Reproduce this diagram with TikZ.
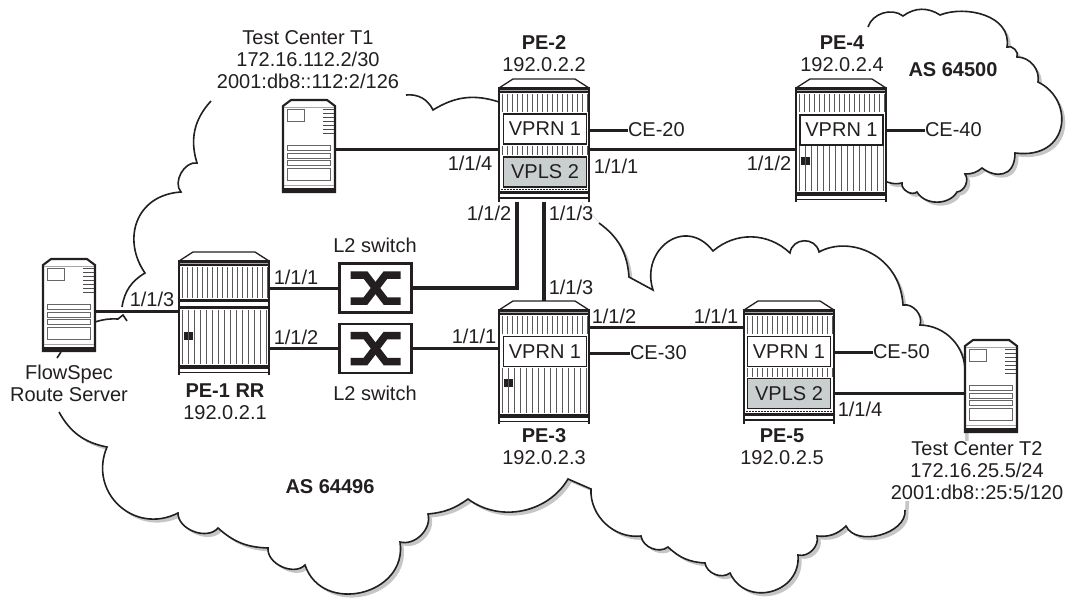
\documentclass[tikz,border=0pt]{standalone}
\usepackage{fontspec}
\setmainfont{Liberation Sans}
\definecolor{inkc}{HTML}{231F20}
\definecolor{vplsc}{HTML}{C9CFCF}
\def\cloudA{(122,307) to[bend left=25] (145,273) .. controls (122,240) and (135,195) .. (181,192) to[bend left=70] (197,163) to[bend left=30] (211,101)}
\def\cloudB{(406,95) to[bend left=35] (433,110) to[bend left=25] (499,102)}
\def\cloudC{(599,223) to[bend left=25] (629,277) -- (653,290) .. controls (640,250) and (685,215) .. (713,251) to[bend left=42] (790,253) to[bend left=80,looseness=1.4] (819,252) .. controls (850,235) and (900,255) .. (903,305) to[bend left=60] (920,325) to[bend left=45] (965,372)}
\def\cloudD{(905,510) to[bend left=80] (846,526) to[bend left=25] (817,536) to[bend left=60] (798,555) to[bend left=80,looseness=1.4] (730,573) to[bend left=60] (705,563) to[bend left=20] (668,547) to[bend left=60] (641,536) to[bend left=50] (591,489) -- (568,479) to[bend left=48] (468,499) to[bend left=15] (428,514) to[bend left=60] (400,542) to[bend left=85,looseness=1.4] (305,565) to[bend left=70] (268,548) to[bend left=20] (218,528) to[bend left=70] (178,513) to[bend left=70,looseness=1.3] (107,447) to[bend left=25] (59,412)}
\def\cloudE{(57,358) -- (61,352)}
\def\cloudF{(95,322) to[bend left=10] (118,319) -- (123,315) -- (127,321)}
\def\cloudG{(868,27) to[bend left=55] (903,16) to[bend left=35] (940,15) .. controls (965,5) and (1012,15) .. (1007,47) to[bend left=70] (1017,57) to[bend left=50] (1038,82) .. controls (1075,100) and (1070,160) .. (1015,153) .. controls (1015,178) and (995,178) .. (982,168) to[bend left=20] (965,174) to[bend left=60] (957,192) to[bend left=60] (917,192) to[bend left=70] (902,183) to[bend left=15] (887,182)}

\begin{document}
\begin{tikzpicture}[x=1pt,y=-1pt,
	every node/.style={font=\fontsize{20}{22}\selectfont, text=inkc, inner sep=0pt, outer sep=0pt},
	router/.style={minimum width=90pt, minimum height=123pt},
	server/.style={minimum width=52pt, minimum height=92pt},
	cloudline/.style={draw=inkc, line width=1.6pt},
	cloudshade/.style={fill=gray!45, shift={(3.5,3.5)}},
	grille/.style={draw=black!65, line width=0.9pt},
	link/.style={draw=inkc, line width=3pt},
	vprn/.style={draw=inkc, line width=1.8pt, fill=white, minimum width=83pt, minimum height=30pt},
	vpls/.style={vprn, fill=vplsc},
	switchbox/.style={draw=inkc, line width=2.6pt, fill=white, minimum width=72pt, minimum height=49pt},
	blocktext/.style={align=center, fill=white, inner sep=1pt}]
	\useasboundingbox (0,0) rectangle (1081,597);

	\fill[cloudshade] \cloudG -- cycle;
	\fill[white] \cloudG -- cycle;
	\draw[cloudline] \cloudG;
	\fill[cloudshade] \cloudA -- \cloudB -- \cloudC -- (965,490) -- (906,490) -- \cloudD -- \cloudE -- \cloudF -- cycle;
	\fill[white] \cloudA -- \cloudB -- \cloudC -- (965,490) -- (906,490) -- \cloudD -- \cloudE -- \cloudF -- cycle;
	\draw[cloudline] \cloudA \cloudB \cloudC \cloudD \cloudE \cloudF;

	\foreach \nm/\px/\py in {pe1/179/252, pe2/499/79, pe3/499/301, pe4/796/79, pe5/744/301} {
		\node[router] (\nm) at (\px+45,\py+61.5) {};
		\begin{scope}[shift={(\px,\py)}]
			\draw[fill=white, line width=1.3pt, draw=inkc] (0,9) -- (14,0) -- (76,0) -- (90,9);
			\fill[white] (0,9) rectangle (90,123);
			\fill[inkc] (0,8) rectangle (90,10.5);
			\fill[gray!70] (0,10.5) rectangle (90,12);
			\fill[inkc] (0,12) rectangle (90,14);
			\foreach \gx in {3,8,...,88} \draw[grille] (\gx,15) -- (\gx,33);
		\end{scope}
	}
	\foreach \px/\py in {499/79, 744/301} {
		\begin{scope}[shift={(\px,\py)}]
			\foreach \gx in {3,8,...,88} \draw[grille] (\gx,67) -- (\gx,76);
			\draw[inkc, line width=0.8pt, dash pattern=on 2pt off 1pt] (2,110) -- (88,110);
			\fill[inkc] (0,112) rectangle (90,115);
			\fill[inkc] (0,118) rectangle (90,120);
		\end{scope}
	}
	\foreach \px/\py in {796/79, 499/301} {
		\begin{scope}[shift={(\px,\py)}]
			\foreach \gx in {3,9,...,87} \draw[grille] (\gx,67) -- (\gx,112);
			\fill[inkc] (5,78) rectangle (9,86);
			\fill[inkc] (10,78) rectangle (14,86);
			\fill[inkc] (0,113) rectangle (90,117);
			\draw[inkc, line width=1pt] (0,120) -- (90,120);
		\end{scope}
	}
	\begin{scope}[shift={(179,252)}]
		\foreach \gx in {3,8,...,88} \draw[grille] (\gx,15) -- (\gx,46);
		\fill[inkc] (0,47) rectangle (90,50);
		\fill[inkc] (0,54) rectangle (90,57);
		\foreach \gx in {3,9,...,87} \draw[grille] (\gx,58) -- (\gx,112);
		\fill[inkc] (5,80) rectangle (9,88);
		\fill[inkc] (10,80) rectangle (14,88);
		\fill[inkc] (0,113) rectangle (90,117);
		\draw[inkc, line width=1pt] (0,120) -- (90,120);
	\end{scope}
	\foreach \nm in {pe1,pe2,pe3,pe4,pe5} {
		\draw[inkc, line width=2pt] (\nm.north west)++(0,8) -- (\nm.south west);
		\draw[inkc, line width=2pt] (\nm.north east)++(0,8) -- (\nm.south east);
	}

	\foreach \nm/\px/\py in {srvt1/283/100, srvfs/43/259, srvt2/965/340} {
		\node[server] (\nm) at (\px+26,\py+46) {};
		\begin{scope}[shift={(\px,\py)}]
			\draw[fill=white, draw=inkc, line width=2.1pt] (0,92) -- (0,6) -- (8,0) -- (44,0) -- (52,6) -- (52,92) -- cycle;
			\draw[gray!70, line width=0.8pt] (1,7) -- (51,7);
			\draw[black!60, line width=1pt] (4,9) rectangle (21,21);
			\foreach \vy in {9,13,...,33} \draw[inkc!80, line width=0.8pt] (40,\vy) -- (51,\vy);
			\draw[black!60, line width=1pt] (4,45) rectangle (47,50);
			\draw[black!60, line width=1pt] (4,53) rectangle (47,58);
			\draw[black!60, line width=1pt] (4,60) rectangle (47,65);
			\draw[black!60, line width=1pt] (4,68) rectangle (47,80);
			\draw[gray!70, line width=1pt] (1,85) -- (51,85);
			\fill[inkc] (0,88) rectangle (52,92);
		\end{scope}
	}

	\node[vprn] (vprn2) at (545,129) {VPRN 1};
	\node[vprn] (vprn3) at (545,351.5) {VPRN 1};
	\node[vprn] (vprn4) at (841.5,130) {VPRN 1};
	\node[vprn] (vprn5) at (789,351.5) {VPRN 1};
	\node[vpls] (vpls2) at (545,172) {VPLS 2};
	\node[vpls] (vpls5) at (789,393.5) {VPLS 2};

	\node[switchbox] (sw1) at (375.5,288) {};
	\node[switchbox] (sw2) at (375.5,348.5) {};
	\foreach \nm in {sw1,sw2} {
		\begin{scope}[shift={(\nm.center)}]
			\draw[inkc, line width=7.5pt] (-25,-13) -- (-10,-13) -- (10,13) -- (25,13);
			\draw[inkc, line width=7.5pt] (-25,13) -- (-10,13) -- (10,-13) -- (25,-13);
		\end{scope}
	}

	\node[anchor=west] (ce20) at (628,130) {CE-20};
	\node[anchor=west] (ce30) at (630,353) {CE-30};
	\node[anchor=west] (ce40) at (925,130) {CE-40};
	\node[anchor=west] (ce50) at (873,352) {CE-50};

	\draw[link] (srvt1.east |- 0,149) -- (pe2.west |- 0,149);
	\draw[link] (pe2.east |- 0,149) -- (pe4.west |- 0,149);
	\draw[link] (srvfs.east |- 0,311) -- (pe1.west |- 0,311);
	\draw[link] (pe1.east |- sw1.west) -- (sw1.west);
	\draw[link] (pe1.east |- sw2.west) -- (sw2.west);
	\draw[link] (sw2.east) -- (pe3.west |- sw2.east);
	\draw[link, line width=3.4pt] (pe2.south -| 517,0) |- (sw1.east);
	\draw[link, line width=3.4pt] (pe2.south) -- (pe3.north);
	\draw[link] (pe3.east |- 0,327) -- (pe5.west |- 0,327);
	\draw[link] (pe5.east |- vpls5.east) -- (srvt2.west |- vpls5.east);
	\draw[link] (pe2.east |- 0,130) -- (ce20.west);
	\draw[link] (pe3.east |- 0,353) -- (ce30.west);
	\draw[link] (pe4.east |- 0,130) -- (ce40.west);
	\draw[link] (pe5.east |- 0,352) -- (ce50.west);

	\node[blocktext] (lblt1) at (308,60) {Test Center T1\\172.16.112.2/30\\2001:db8::112:2/126};
	\node[blocktext] (lblt2) at (977,471) {Test Center T2\\172.16.25.5/24\\2001:db8::25:5/120};
	\node[blocktext] (lblfs) at (69,383) {FlowSpec\\Route Server};
	\node[align=center] (lblpe1) at (225,402) {\textbf{PE-1 RR}\\192.0.2.1};
	\node[align=center] (lblpe2) at (544,54) {\textbf{PE-2}\\192.0.2.2};
	\node[align=center] (lblpe3) at (544,447) {\textbf{PE-3}\\192.0.2.3};
	\node[align=center] (lblpe4) at (842,54) {\textbf{PE-4}\\192.0.2.4};
	\node[align=center] (lblpe5) at (782,447) {\textbf{PE-5}\\192.0.2.5};
	\node[font=\fontsize{20}{22}\selectfont\bfseries] (as500) at (953,70) {AS 64500};
	\node[font=\fontsize{20}{22}\selectfont\bfseries] (as496) at (330,487) {AS 64496};
	\node (lblsw1) at (375,245) {L2 switch};
	\node (lblsw2) at (375,393) {L2 switch};

	\node (p21) at (616,166) {1/1/1};
	\node (p22) at (489,213) {1/1/2};
	\node (p23) at (571,213) {1/1/3};
	\node (p24) at (470,163) {1/1/4};
	\node (p42) at (769,163) {1/1/2};
	\node (p11) at (296,277) {1/1/1};
	\node (p12) at (296,337) {1/1/2};
	\node (p13) at (152,299) {1/1/3};
	\node (p33) at (571,287) {1/1/3};
	\node (p31) at (474,336) {1/1/1};
	\node (p32) at (614,316) {1/1/2};
	\node (p51) at (716,316) {1/1/1};
	\node (p54) at (860,409) {1/1/4};
\end{tikzpicture}
\end{document}
